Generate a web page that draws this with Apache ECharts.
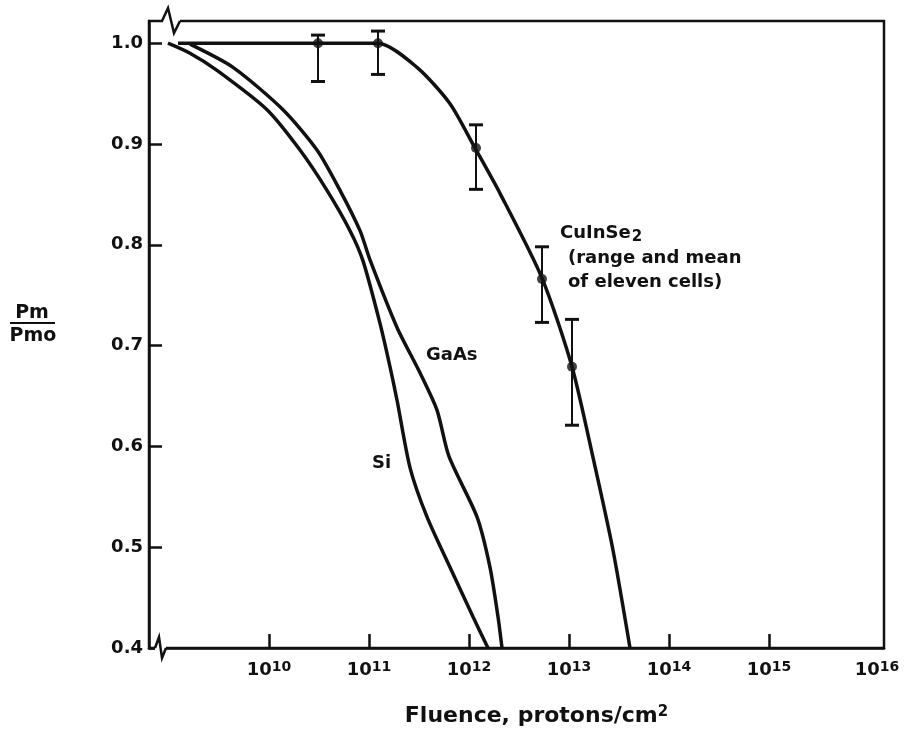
<!DOCTYPE html>
<html>
<head>
<meta charset="utf-8">
<script src="https://cdn.jsdelivr.net/npm/echarts@6/dist/echarts.min.js"></script>
<style>
  html, body { margin: 0; padding: 0; background: #fff; }
  #chart { width: 904px; height: 731px; }
</style>
</head>
<body>
<div id="chart"></div>
<script>
// x values are log10(fluence, protons/cm2)
var siLogF = [8.99, 9.21, 9.48, 9.98, 10.31, 10.58, 10.81, 10.94, 11.11, 11.21, 11.28, 11.41, 11.58, 11.81, 12.04, 12.19];
var siPm   = [1.0, 0.990, 0.973, 0.934, 0.894, 0.854, 0.814, 0.784, 0.722, 0.679, 0.646, 0.579, 0.530, 0.480, 0.431, 0.400];

var gaasLogF = [9.21, 9.64, 10.14, 10.48, 10.71, 10.91, 11.01, 11.28, 11.51, 11.68, 11.80, 12.08, 12.21, 12.29, 12.33];
var gaasPm   = [0.999, 0.976, 0.934, 0.894, 0.854, 0.814, 0.785, 0.718, 0.673, 0.636, 0.590, 0.530, 0.480, 0.431, 0.400];

var cisLogF = [9.09, 11.09, 11.48, 11.81, 12.06, 12.31, 12.73, 13.03, 13.24, 13.44, 13.61];
var cisPm   = [1.0, 1.0, 0.976, 0.940, 0.896, 0.851, 0.767, 0.679, 0.589, 0.497, 0.400];

// CuInSe2 measured cells: mean and range
var cellLogF = [10.49, 11.09, 12.07, 12.73, 13.03];
var cellMean = [1.0, 1.0, 0.896, 0.766, 0.679];
var cellLow  = [0.962, 0.969, 0.855, 0.723, 0.621];
var cellHigh = [1.008, 1.012, 0.919, 0.798, 0.726];

var xTickExp = [10, 11, 12, 13, 14, 15];
var xLabelExp = [10, 11, 12, 13, 14, 15, 16];
var yTicks = [0.4, 0.5, 0.6, 0.7, 0.8, 0.9, 1.0];

const FONT = '"DejaVu Sans", sans-serif';
const INK = '#111';

const pairs = (xs, ys) => xs.map((x, i) => [x, ys[i]]);

const curve = (name, xs, ys) => ({
  name: name,
  type: 'line',
  data: pairs(xs, ys),
  showSymbol: false,
  smooth: 0.25,
  lineStyle: { color: INK, width: 3.5 },
  z: 3
});

const getOptionChart = () => {
  return {
    backgroundColor: '#fff',
    animation: false,
    grid: {
      left: 149, right: 20, top: 21, bottom: 83,
      containLabel: false, outerBoundsMode: 'none',
      show: true, borderColor: INK, borderWidth: 2.5
    },
    xAxis: {
      type: 'value',
      min: 8.8,
      max: 16.15,
      name: 'Fluence, protons/cm{s|2}',
      nameLocation: 'middle',
      nameGap: 57,
      nameTextStyle: {
        fontFamily: FONT, fontWeight: 'bold', fontSize: 22, color: INK, padding: [0, 0, 0, 40],
        rich: { s: { fontFamily: FONT, fontWeight: 'bold', fontSize: 15, color: INK, verticalAlign: 'top', padding: [0, 0, 8, 0] } }
      },
      axisLine: { lineStyle: { color: INK, width: 2.5 } },
      axisTick: { inside: true, length: 14, customValues: xTickExp, lineStyle: { color: INK, width: 2.5 } },
      axisLabel: {
        customValues: xLabelExp,
        margin: 12,
        formatter: v => v === 16 ? '{b16|10}{s|16}' : '{b|10}{s|' + v + '}',
        rich: {
          b: { fontFamily: FONT, fontWeight: 'bold', fontSize: 18, color: INK },
          b16: { fontFamily: FONT, fontWeight: 'bold', fontSize: 18, color: INK, padding: [0, 0, 0, 16] },
          s: { fontFamily: FONT, fontWeight: 'bold', fontSize: 14, color: INK, verticalAlign: 'top', padding: [0, 0, 6, 0] }
        }
      },
      splitLine: { show: false }
    },
    yAxis: {
      type: 'value',
      min: 0.4,
      max: 1.022,
      axisLine: { lineStyle: { color: INK, width: 2.5 } },
      axisTick: { inside: true, length: 13, customValues: yTicks, lineStyle: { color: INK, width: 2.5 } },
      axisLabel: {
        customValues: yTicks,
        margin: 6,
        formatter: v => v.toFixed(1),
        fontFamily: FONT, fontWeight: 'bold', fontSize: 18, color: INK
      },
      splitLine: { show: false }
    },
    series: [
      curve('Si', siLogF, siPm),
      curve('GaAs', gaasLogF, gaasPm),
      curve('CuInSe2', cisLogF, cisPm),
      {
        name: 'range',
        type: 'custom',
        data: cellLogF.map((x, i) => [x, cellLow[i], cellHigh[i]]),
        encode: { x: 0, y: [1, 2] },
        renderItem: (params, api) => {
          const x = api.value(0);
          const lo = api.coord([x, api.value(1)]);
          const hi = api.coord([x, api.value(2)]);
          const w = 7;
          return {
            type: 'group',
            children: [
              { type: 'line', shape: { x1: lo[0], y1: lo[1], x2: hi[0], y2: hi[1] }, style: { stroke: INK, lineWidth: 2 } },
              { type: 'line', shape: { x1: lo[0] - w, y1: lo[1], x2: lo[0] + w, y2: lo[1] }, style: { stroke: INK, lineWidth: 3 } },
              { type: 'line', shape: { x1: hi[0] - w, y1: hi[1], x2: hi[0] + w, y2: hi[1] }, style: { stroke: INK, lineWidth: 3 } }
            ]
          };
        },
        z: 4
      },
      {
        name: 'mean',
        type: 'scatter',
        data: pairs(cellLogF, cellMean),
        symbol: 'circle',
        symbolSize: 10,
        itemStyle: { color: INK },
        z: 5
      }
    ],
    graphic: [
      // axis breaks
      { type: 'rect', shape: { x: 163, y: 17, width: 17, height: 8 }, style: { fill: '#fff' }, z: 10 },
      { type: 'polyline', shape: { points: [[162, 21], [168, 8], [174, 33], [180, 21]] }, style: { stroke: INK, lineWidth: 2.5, fill: null }, z: 11 },
      { type: 'rect', shape: { x: 155, y: 645, width: 11, height: 7 }, style: { fill: '#fff' }, z: 10 },
      { type: 'polyline', shape: { points: [[155, 648], [159, 637], [162, 658], [166, 648]] }, style: { stroke: INK, lineWidth: 2.5, fill: null }, z: 11 },
      // y-axis title Pm / Pmo
      { type: 'text', x: 32, y: 313, style: { text: 'Pm', font: 'bold 19px ' + FONT, fill: INK, textAlign: 'center', textVerticalAlign: 'middle' } },
      { type: 'line', shape: { x1: 10, y1: 323, x2: 55, y2: 323 }, style: { stroke: INK, lineWidth: 2 } },
      { type: 'text', x: 33, y: 336, style: { text: 'Pmo', font: 'bold 19px ' + FONT, fill: INK, textAlign: 'center', textVerticalAlign: 'middle' } },
      // curve labels
      { type: 'text', x: 372, y: 463, style: { text: 'Si', font: 'bold 18px ' + FONT, fill: INK, textVerticalAlign: 'middle' } },
      { type: 'text', x: 426, y: 355, style: { text: 'GaAs', font: 'bold 18px ' + FONT, fill: INK, textVerticalAlign: 'middle' } },
      {
        type: 'text', x: 560, y: 233,
        style: {
          text: 'CuInSe{sub|2}', font: 'bold 18px ' + FONT, fill: INK, textVerticalAlign: 'middle',
          rich: { sub: { font: 'bold 15px ' + FONT, fill: INK, padding: [8, 0, 0, 1] } }
        }
      },
      { type: 'text', x: 568, y: 258, style: { text: '(range and mean', font: 'bold 18px ' + FONT, fill: INK, textVerticalAlign: 'middle' } },
      { type: 'text', x: 568, y: 282, style: { text: 'of eleven cells)', font: 'bold 18px ' + FONT, fill: INK, textVerticalAlign: 'middle' } }
    ]
  };
};

const initCharts = () => {
  const chart = echarts.init(document.getElementById('chart'));
  chart.setOption(getOptionChart());
};

window.addEventListener('load', () => {
  initCharts();
});
</script>
</body>
</html>
